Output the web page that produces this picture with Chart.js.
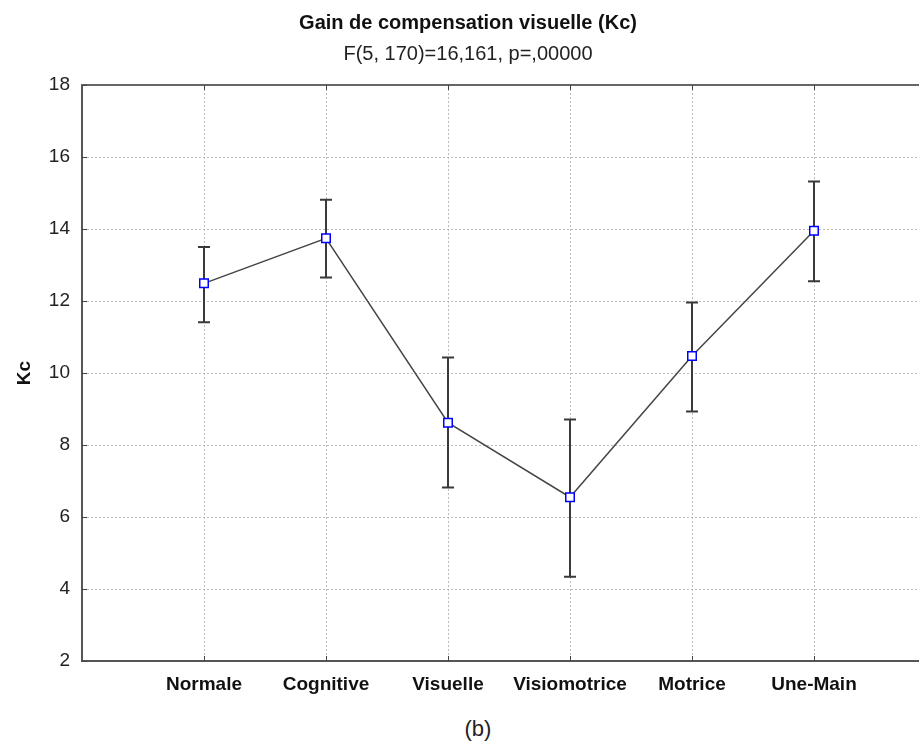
<!DOCTYPE html>
<html lang="fr">
<head>
    <meta charset="UTF-8">
    <title>Gain de compensation visuelle (Kc)</title>
    <script src="https://cdn.jsdelivr.net/npm/chart.js"></script>
    <style>
        html, body {
            margin: 0;
            padding: 0;
            background: #fff;
            overflow: hidden;
            width: 919px;
            height: 746px;
        }
        .chart-box {
            position: absolute;
            left: 0;
            top: 0;
            width: 950px;
            height: 700px;
        }
        .caption {
            position: absolute;
            left: 0;
            width: 956px;
            top: 716px;
            text-align: center;
            font-family: "Liberation Sans", Arial, sans-serif;
            font-size: 22px;
            color: #222;
        }
    </style>
</head>
<body>
    <div class="chart-box">
        <canvas id="kcChart" width="950" height="700"></canvas>
    </div>
    <div class="caption">(b)</div>

<script>
// données
const categories = ['Normale', 'Cognitive', 'Visuelle', 'Visiomotrice', 'Motrice', 'Une-Main'];
const means = [12.49, 13.74, 8.62, 6.55, 10.47, 13.95];
const lower = [11.41, 12.65, 6.82, 4.34, 8.93, 12.55];
const upper = [13.50, 14.81, 10.43, 8.71, 11.96, 15.32];
const yTicks = [2, 4, 6, 8, 10, 12, 14, 16, 18];

const FONT = '"Liberation Sans", Arial, sans-serif';

// barres d'erreur + petites graduations intérieures + bord supérieur
const errorBars = {
    id: 'errorBars',
    beforeDatasetsDraw(chart) {
        const ctx = chart.ctx;
        const xs = chart.scales.x, ys = chart.scales.y;
        const area = chart.chartArea;
        ctx.save();
        // bord du haut
        ctx.strokeStyle = '#666';
        ctx.lineWidth = 2;
        ctx.beginPath();
        ctx.moveTo(area.left - 1, area.top);
        ctx.lineTo(area.right + 20, area.top);
        ctx.stroke();
        // graduations
        ctx.strokeStyle = '#444';
        ctx.lineWidth = 1;
        ctx.beginPath();
        yTicks.forEach(v => {
            const py = Math.round(ys.getPixelForValue(v)) + 0.5;
            ctx.moveTo(area.left, py);
            ctx.lineTo(area.left + 5, py);
        });
        categories.forEach((c, i) => {
            const px = Math.round(xs.getPixelForValue(i)) + 0.5;
            ctx.moveTo(px, area.bottom);
            ctx.lineTo(px, area.bottom - 5);
            ctx.moveTo(px, area.top);
            ctx.lineTo(px, area.top + 5);
        });
        ctx.stroke();
        // barres
        ctx.strokeStyle = '#3a3a3a';
        ctx.lineWidth = 2;
        ctx.beginPath();
        categories.forEach((c, i) => {
            const px = Math.round(xs.getPixelForValue(i));
            const yl = ys.getPixelForValue(lower[i]);
            const yh = ys.getPixelForValue(upper[i]);
            ctx.moveTo(px, yl);
            ctx.lineTo(px, yh);
            ctx.moveTo(px - 6, yl);
            ctx.lineTo(px + 6, yl);
            ctx.moveTo(px - 6, yh);
            ctx.lineTo(px + 6, yh);
        });
        ctx.stroke();
        ctx.restore();
    }
};

const ctx = document.getElementById('kcChart').getContext('2d');
const kcChart = new Chart(ctx, {
    type: 'line',
    data: {
        datasets: [{
            label: 'Kc',
            data: means.map((v, i) => ({ x: i, y: v })),
            borderColor: '#444',
            borderWidth: 1.5,
            pointStyle: 'rect',
            pointRadius: 6,
            pointBorderColor: '#0000ff',
            pointBackgroundColor: '#fff',
            pointBorderWidth: 1.5,
            tension: 0
        }]
    },
    options: {
        responsive: false,
        animation: false,
        layout: { padding: { left: 0, right: 14, top: 0, bottom: 0 } },
        plugins: {
            legend: { display: false },
            tooltip: { enabled: false },
            title: {
                display: true,
                text: 'Gain de compensation visuelle (Kc)',
                color: '#111',
                font: { family: FONT, size: 20, weight: 'bold' },
                padding: { top: 11, bottom: 6 }
            },
            subtitle: {
                display: true,
                text: 'F(5, 170)=16,161, p=,00000',
                color: '#222',
                font: { family: FONT, size: 20 },
                padding: { top: 1, bottom: 19 }
            }
        },
        scales: {
            x: {
                type: 'linear',
                min: -1,
                max: 6,
                afterBuildTicks(scale) {
                    scale.ticks = categories.map((c, i) => ({ value: i }));
                },
                afterFit(scale) { scale.height = 39; },
                ticks: {
                    autoSkip: false,
                    maxRotation: 0,
                    padding: 12,
                    color: '#111',
                    font: { family: FONT, size: 19, weight: 'bold' },
                    callback: (v) => categories[v]
                },
                grid: {
                    drawTicks: false,
                    color: '#bdbdbd',
                    lineWidth: 1
                },
                // en v4, border.dash sert aux lignes de grille
                border: { display: true, color: '#555', width: 2, dash: [2, 2] }
            },
            y: {
                min: 2,
                max: 18,
                afterBuildTicks(scale) {
                    scale.ticks = yTicks.map(v => ({ value: v }));
                },
                afterFit(scale) { scale.width = 82; },
                ticks: {
                    padding: 12,
                    color: '#222',
                    font: { family: FONT, size: 19 }
                },
                grid: {
                    drawTicks: false,
                    color: '#bdbdbd',
                    lineWidth: 1
                },
                border: { display: true, color: '#555', width: 2, dash: [2, 2] },
                title: {
                    display: true,
                    text: 'Kc',
                    color: '#111',
                    font: { family: FONT, size: 19, weight: 'bold' },
                    padding: { top: 13, bottom: 0 }
                }
            }
        }
    },
    plugins: [errorBars]
});
</script>
</body>
</html>
